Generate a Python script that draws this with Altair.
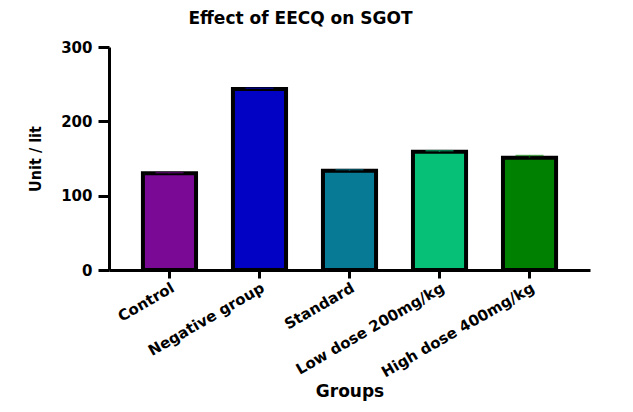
import altair as alt
import pandas as pd

groups = ["Control", "Negative group", "Standard", "Low dose 200mg/kg", "High dose 400mg/kg"]
values = [130, 243.5, 133.5, 159, 151]
errors = [1, 1, 1.5, 1.5, 3]
colors = ["#7A0A96", "#0202C4", "#077A96", "#07C078", "#008000"]

df = pd.DataFrame({"group": groups, "value": values, "err": errors})
df["upper"] = df["value"] + df["err"]

xenc = alt.X("group:N", sort=groups, title="Groups",
             scale=alt.Scale(paddingInner=0.41, paddingOuter=0.377),
             axis=alt.Axis(labelAngle=330, labelFont="DejaVu Sans", labelFontWeight="bold",
                           labelFontSize=15, labelColor="black", labelPadding=2,
                           domainColor="black", domainWidth=3, tickColor="black",
                           tickWidth=3, tickSize=8, titleFont="DejaVu Sans",
                           titleFontWeight="bold", titleFontSize=17, titleColor="black",
                           titlePadding=4))
colorenc = alt.Color("group:N", sort=groups, scale=alt.Scale(domain=groups, range=colors), legend=None)

bars = alt.Chart(df).mark_bar(stroke="black", strokeWidth=4).encode(
    x=xenc,
    y=alt.Y("value:Q", title="Unit / lit",
            scale=alt.Scale(domain=[0, 300]),
            axis=alt.Axis(values=[0, 100, 200, 300], grid=False, labelFont="DejaVu Sans",
                          labelFontWeight="bold", labelFontSize=15, labelColor="black",
                          labelPadding=6, domainColor="black", domainWidth=3,
                          tickColor="black", tickWidth=3, tickSize=11,
                          titleFont="DejaVu Sans Condensed", titleFontWeight="bold",
                          titleFontSize=16, titleColor="black", titleX=-74, titleY=111.5,
                          titleBaseline="middle", titleAngle=270)),
    color=colorenc,
)

stems = alt.Chart(df).mark_rule(strokeWidth=1.5, opacity=0.6).encode(
    x=alt.X("group:N", sort=groups), y="value:Q", y2="upper:Q", color=colorenc)
caps = alt.Chart(df).mark_tick(size=28, thickness=1.5, opacity=0.6).encode(
    x=alt.X("group:N", sort=groups), y="upper:Q", color=colorenc)

chart = alt.layer(bars, stems, caps).properties(
    width=481, height=223,
    background="white",
    title=alt.TitleParams("Effect of EECQ on SGOT", font="DejaVu Sans", fontWeight="bold",
                          fontSize=17, color="black", anchor="middle", dx=-49, offset=12),
    autosize=alt.AutoSizeParams(type="none"),
    padding={"left": 101, "top": 39, "right": 30, "bottom": 140},
).configure_view(stroke=None)

chart.save("out.html", embed_options={"renderer": "svg", "actions": False})
